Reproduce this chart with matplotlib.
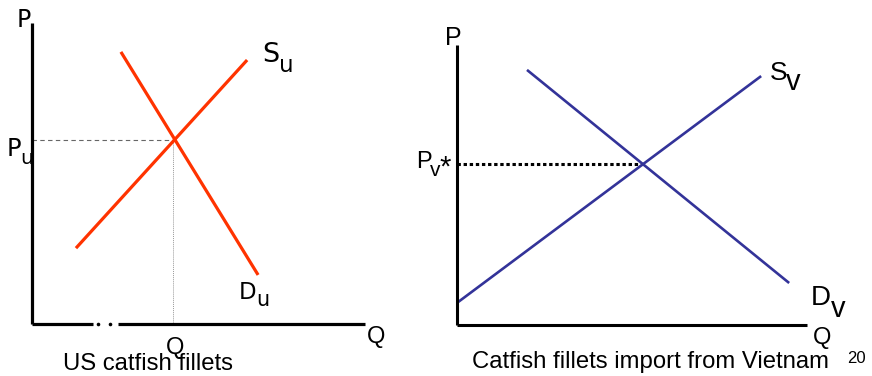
import matplotlib
matplotlib.use("Agg")
from matplotlib import pyplot as plt
import numpy as np

# Datos (unidades arbitrarias 0-100 en cada eje)
# Mercado de EE.UU.
su_q = [13.2, 64.6]
su_p = [25.2, 87.7]
du_q = [26.7, 67.9]
du_p = [90.4, 16.3]
eje_q_tramos = [[0, 18.3], [25.8, 100]]   # eje Q cortado
eje_q_puntos = [19.9, 23.3]

# Importacion desde Vietnam
sv_q = [0, 86.9]
sv_p = [7.9, 88.9]
dv_q = [20.0, 94.9]
dv_p = [91.1, 15.0]

ROJO = "#ff3300"
AZUL = "#333399"
W, H = 872, 376
HELV = "Liberation Sans"
DEJA = "DejaVu Sans"


def corte(q1, p1, q2, p2):
    # interseccion de dos rectas dadas por dos puntos cada una
    m1 = (p1[1] - p1[0]) / (q1[1] - q1[0])
    m2 = (p2[1] - p2[0]) / (q2[1] - q2[0])
    q = (p2[0] - p1[0] + m1 * q1[0] - m2 * q2[0]) / (m1 - m2)
    return q, p1[0] + m1 * (q - q1[0])


def caja(x0, y0, x1, y1):
    # caja en pixeles (arriba-izquierda) -> fraccion de figura
    return [x0 / W, (H - y1) / H, (x1 - x0) / W, (y1 - y0) / H]


def texto(x, y, s, size, family=HELV, **kw):
    fig.text(x / W, 1 - y / H, s, fontsize=size, family=family,
             ha="left", va="baseline", **kw)


fig = plt.figure(figsize=(W / 100, H / 100), dpi=100)

# ---- panel izquierdo ----
ax1 = fig.add_axes(caja(32, 23, 365, 324))
ax1.set_xlim(0, 100)
ax1.set_ylim(0, 100)
ax1.axis("off")

eq_q, eq_p = corte(su_q, su_p, du_q, du_p)
ax1.plot([0, eq_q], [eq_p, eq_p], color="#666666", lw=0.8, ls=(0, (4, 3)))
ax1.plot([eq_q - 0.6, eq_q - 0.6], [0, eq_p], color="#999999", lw=0.7, ls=(0, (1, 1)))
ax1.plot(su_q, su_p, color=ROJO, lw=2.3, solid_capstyle="butt")
ax1.plot(du_q, du_p, color=ROJO, lw=2.3, solid_capstyle="butt")
ax1.plot([0, 0], [0, 100], color="black", lw=2.3, clip_on=False, solid_capstyle="butt")
for tramo in eje_q_tramos:
    ax1.plot(tramo, [0, 0], color="black", lw=2.3, clip_on=False, solid_capstyle="butt")
ax1.plot(eje_q_puntos, [0, 0], "o", color="black", ms=2.6, mew=0, clip_on=False)

# ---- panel derecho ----
ax2 = fig.add_axes(caja(457, 45, 807, 325))
ax2.set_xlim(0, 100)
ax2.set_ylim(0, 100)
ax2.axis("off")

ev_q, ev_p = corte(sv_q, sv_p, dv_q, dv_p)
ax2.plot([0, ev_q], [ev_p, ev_p], color="black", lw=2.2, ls=(0, (1.1, 0.9)),
         dash_capstyle="butt")
ax2.plot(sv_q, sv_p, color=AZUL, lw=1.9, solid_capstyle="butt", clip_on=False)
ax2.plot(dv_q, dv_p, color=AZUL, lw=1.9, solid_capstyle="butt")
ax2.plot([0, 0], [0, 100], color="black", lw=2.2, clip_on=False, solid_capstyle="butt")
ax2.plot([0, 100], [0, 0], color="black", lw=2.2, clip_on=False, solid_capstyle="butt")

# ---- etiquetas panel izquierdo ----
texto(17, 27, "P", 17, DEJA)
texto(262, 62, "S", 19.5, DEJA)
texto(279, 72, "u", 16.5, DEJA)
texto(7, 156, "P", 17.5, DEJA)
texto(20, 164, "u", 14.5, DEJA)
texto(239, 299, "D", 16.5, DEJA)
texto(256, 306, "u", 15, DEJA)
texto(367, 343, "Q", 17)
texto(166, 354, "Q", 17)
texto(63, 370, "US catfish fillets", 17.2)

# ---- etiquetas panel derecho ----
texto(445, 45, "P", 18)
texto(770, 80, "S", 19)
texto(786, 90, "v", 21)
texto(416, 168, "P", 17)
texto(430, 176, "v", 15)
texto(439, 176, "*", 21)
texto(811, 305, "D", 20)
texto(831, 317, "v", 21)
texto(813, 344, "Q", 17)
texto(472, 368, "Catfish fillets import from Vietnam", 17.2)
texto(847, 363, "20", 12)

fig.savefig("out.png", dpi=100)
